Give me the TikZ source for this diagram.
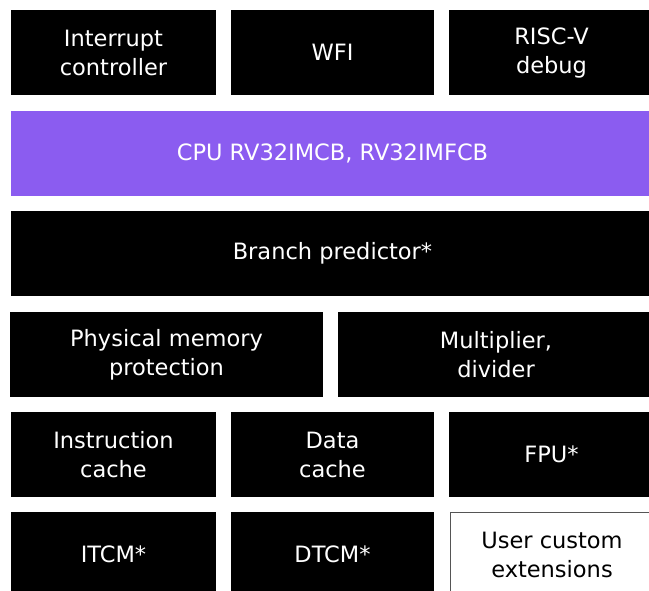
\documentclass[tikz,border=0pt]{standalone}
\usepackage{fontspec}
\setmainfont{DejaVu Sans}
\definecolor{cpupurple}{HTML}{8B5CF0}
\definecolor{boxgray}{HTML}{555555}
\begin{document}
\begin{tikzpicture}[x=1pt,y=-1pt,
  blk/.style={fill=black,draw=none,text=white,align=center,inner sep=0pt,
    minimum height=85pt,font=\fontsize{22.5}{29}\selectfont},
  cpu/.style={blk,fill=cpupurple},
  userbox/.style={blk,fill=white,text=black,draw=boxgray,line width=1pt}]
\useasboundingbox (0,0) rectangle (649,591);
\clip (0,0) rectangle (649,591);
% row 1
\node[blk,minimum width=205pt] (irq) at (113.5,52.5) {Interrupt\\controller};
\node[blk,minimum width=203pt] (wfi) at (332.5,52.5) {WFI};
\node[blk,minimum width=205pt] (dbg) at (551.5,52.5) {RISC-V\\debug};
% row 2
\node[cpu,minimum width=643pt] (cpu) at (332.5,153.5) {CPU RV32IMCB, RV32IMFCB};
% row 3
\node[blk,minimum width=643pt] (bp) at (332.5,253.5) {Branch predictor*};
% row 4
\node[blk,minimum width=313pt] (pmp) at (166.5,354.5) {Physical memory\\protection};
\node[blk,minimum width=316pt] (mul) at (496,354.5) {Multiplier,\\divider};
% row 5
\node[blk,minimum width=205pt] (ic) at (113.5,454.5) {Instruction\\cache};
\node[blk,minimum width=203pt] (dc) at (332.5,454.5) {Data\\cache};
\node[blk,minimum width=205pt] (fpu) at (551.5,454.5) {FPU*};
% row 6
\node[blk,minimum width=205pt] (itcm) at (113.5,554.5) {ITCM*};
\node[blk,minimum width=203pt] (dtcm) at (332.5,554.5) {DTCM*};
\node[userbox,minimum width=204pt,minimum height=84pt] (user) at (552,554.5) {User custom\\extensions};
\end{tikzpicture}
\end{document}
